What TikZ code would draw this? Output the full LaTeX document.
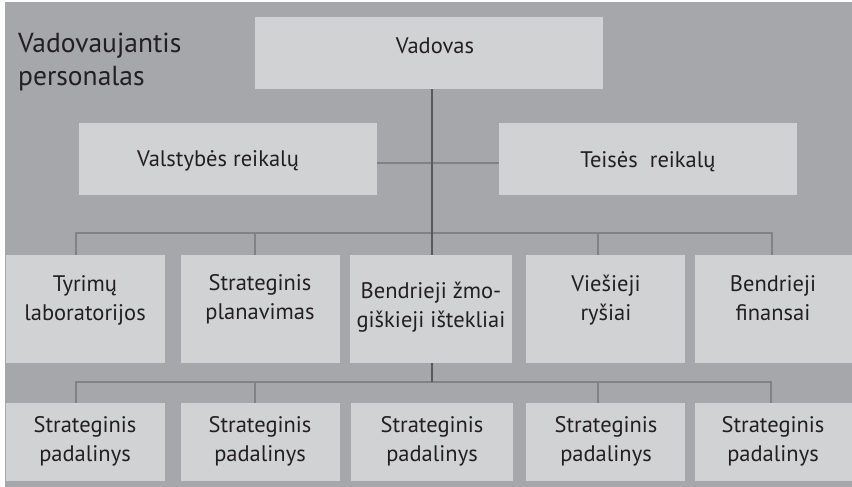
\documentclass[tikz,border=0pt]{standalone}
\usepackage{fontspec}
\setmainfont{PT Sans}
\definecolor{panel}{HTML}{A6A7AB}
\definecolor{boxfill}{HTML}{D1D2D4}
\definecolor{ink}{HTML}{231F20}
\definecolor{trunkc}{HTML}{58595B}
\definecolor{busc}{HTML}{808285}
\begin{document}
\begin{tikzpicture}[x=1pt,y=-1pt,
  unit/.style={draw=none,fill=boxfill,inner sep=0pt,anchor=north west},
  lbl/.style={text=ink,align=center,inner sep=0pt,anchor=base,
    font=\fontsize{22.5}{29}\selectfont},
  trunk/.style={draw=trunkc,line width=2.6pt},
  bus/.style={draw=busc,line width=2.2pt}]
\useasboundingbox (0,0) rectangle (852,487);
% panel
\fill[panel] (5,2) rectangle (852,487);

% title (base anchor sits on the last line)
\node[text=ink,anchor=base west,inner sep=0pt,align=left,
  font=\fontsize{27.5}{34}\selectfont] (title) at (18,86)
  {Vadovaujantis\\personalas};

% junction points of the connectors
\coordinate (side) at (432,163);
\coordinate (t3) at (432,382);
\coordinate (d1) at (76,233);  \coordinate (d2) at (255,233);
\coordinate (d4) at (598,233); \coordinate (d5) at (772,233);
\coordinate (e1) at (76,382);  \coordinate (e2) at (255,382);
\coordinate (e4) at (598,382); \coordinate (e5) at (771,382);

% top level
\node[unit,minimum width=348pt,minimum height=72pt] (vad) at (255,17) {};
\node[unit,minimum width=298pt,minimum height=72pt] (vals) at (79,123) {};
\node[unit,minimum width=298pt,minimum height=72pt] (teis) at (499,123) {};

% second row
\node[unit,minimum width=159pt,minimum height=108pt] (a1) at (6,255) {};
\node[unit,minimum width=159pt,minimum height=108pt] (a2) at (181,255) {};
\node[unit,minimum width=162pt,minimum height=108pt] (a3) at (350,255) {};
\node[unit,minimum width=159pt,minimum height=108pt] (a4) at (526,255) {};
\node[unit,minimum width=157pt,minimum height=108pt] (a5) at (695,255) {};

% third row
\node[unit,minimum width=159pt,minimum height=78pt] (b1) at (6,403) {};
\node[unit,minimum width=159pt,minimum height=78pt] (b2) at (181,403) {};
\node[unit,minimum width=162pt,minimum height=78pt] (b3) at (351,403) {};
\node[unit,minimum width=159pt,minimum height=78pt] (b4) at (526,403) {};
\node[unit,minimum width=157pt,minimum height=78pt] (b5) at (695,403) {};

% connectors
\draw[bus] (vals.east |- side) -- (teis.west |- side);
\draw[bus] (d1 |- a1.north) -- (d1) -- (d5) -- (d5 |- a5.north);
\draw[bus] (d2) -- (d2 |- a2.north);
\draw[bus] (d4) -- (d4 |- a4.north);
\draw[bus] (e1 |- b1.north) -- (e1) -- (e5) -- (e5 |- b5.north);
\draw[bus] (e2) -- (e2 |- b2.north);
\draw[bus] (e4) -- (e4 |- b4.north);
\draw[trunk] (vad.south -| t3) -- (a3.north -| t3);
\draw[trunk] (a3.south -| t3) -- (t3);

% labels
\node[lbl] (lvad) at (435,54) {Vadovas};
\node[lbl] (lvals) at (218,166) {Valstybės reikalų};
\node[lbl] (lteis) at (648,167) {Teisės\ \ reikalų};

\node[lbl] (la1) at (85,320) {Tyrimų\\laboratorijos};
\node[lbl] (la2) at (260,319) {Strateginis\\planavimas};
\node[lbl] (la3) at (431,327) {Bendrieji žmo-\\giškieji ištekliai};
\node[lbl] (la4) at (606,320) {Viešieji\\ryšiai};
\node[lbl] (la5) at (773,320) {Bendrieji\\finansai};

\foreach \b/\x in {1/85,2/260,3/432,4/606,5/773}
  \node[lbl] (lb\b) at (\x,461) {Strateginis\\padalinys};
\end{tikzpicture}
\end{document}
